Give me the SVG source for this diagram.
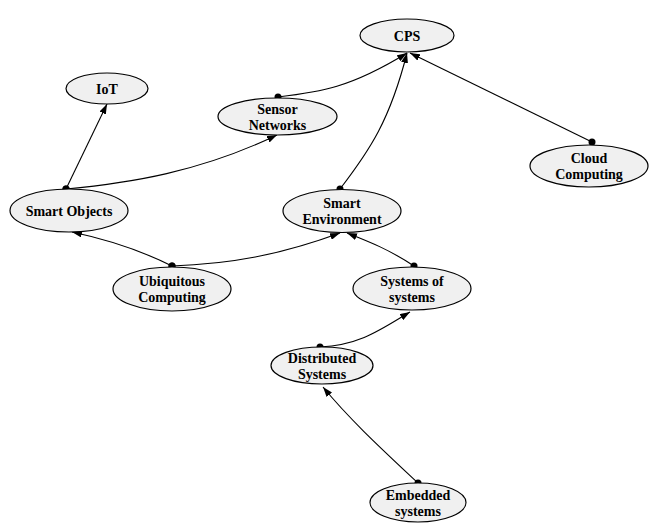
<svg xmlns="http://www.w3.org/2000/svg" width="651" height="528" viewBox="0 0 651 528">
<defs>
<style>
.n ellipse{fill:#f0f0f0;stroke:#000;stroke-width:1.2}
.n text{font-family:"Liberation Serif","Times New Roman",serif;font-weight:bold;font-size:14px;fill:#000;text-anchor:middle}
.e path{fill:none;stroke:#000;stroke-width:1.1;marker-start:url(#dot);marker-end:url(#arr)}
</style>
<marker id="arr" viewBox="0 0 10 7" refX="10" refY="3.5" markerWidth="10" markerHeight="7" markerUnits="userSpaceOnUse" orient="auto"><path d="M0,0 L10,3.5 L0,7 z" fill="#000"/></marker>
<marker id="dot" viewBox="0 0 8 8" refX="4" refY="4" markerWidth="8" markerHeight="8" markerUnits="userSpaceOnUse"><circle cx="4" cy="4" r="3.5" fill="#000"/></marker>
</defs>
<rect width="651" height="528" fill="#fff"/>
<g class="e" id="edges">
<path d="M66,189 L107,104"/>
<path d="M66,189 C130,183 200,172 277,135"/>
<path d="M278,97 C320,92 350,88 407,53"/>
<path d="M340,189 C370,150 390,120 407,53"/>
<path d="M592,142 L410,53"/>
<path d="M172,266 C140,250 110,240 72,232"/>
<path d="M172,266 C230,264 280,255 340,233"/>
<path d="M414,266 C390,250 370,242 347,233"/>
<path d="M320,347 C360,345 380,330 410,312"/>
<path d="M418,483 C385,452 350,420 323,387"/>
</g>
<g class="n" id="cps"><ellipse cx="407" cy="35.5" rx="47" ry="16.5"/><text x="407" y="40.5">CPS</text></g>
<g class="n" id="iot"><ellipse cx="107" cy="88.5" rx="41" ry="15.5"/><text x="107" y="93.5">IoT</text></g>
<g class="n" id="sensor"><ellipse cx="277.5" cy="116.5" rx="59.5" ry="18.5"/><text x="277.5" y="113.5">Sensor</text><text x="277.5" y="129.5">Networks</text></g>
<g class="n" id="smartobj"><ellipse cx="69" cy="210.5" rx="59" ry="21.5"/><text x="69" y="215.5">Smart Objects</text></g>
<g class="n" id="smartenv"><ellipse cx="342" cy="211" rx="59" ry="21.5"/><text x="342" y="208">Smart</text><text x="342" y="224">Environment</text></g>
<g class="n" id="cloud"><ellipse cx="589" cy="166" rx="59" ry="21"/><text x="589" y="163">Cloud</text><text x="589" y="179">Computing</text></g>
<g class="n" id="ubiq"><ellipse cx="172" cy="289" rx="59" ry="22"/><text x="172" y="286">Ubiquitous</text><text x="172" y="302">Computing</text></g>
<g class="n" id="sos"><ellipse cx="412" cy="288.5" rx="59" ry="21.5"/><text x="412" y="285.5">Systems of</text><text x="412" y="301.5">systems</text></g>
<g class="n" id="dist"><ellipse cx="322" cy="365.5" rx="51" ry="18.5"/><text x="322" y="362.5">Distributed</text><text x="322" y="378.5">Systems</text></g>
<g class="n" id="embedded"><ellipse cx="418" cy="502.5" rx="48" ry="19.5"/><text x="418" y="499.5">Embedded</text><text x="418" y="515.5">systems</text></g>
</svg>
